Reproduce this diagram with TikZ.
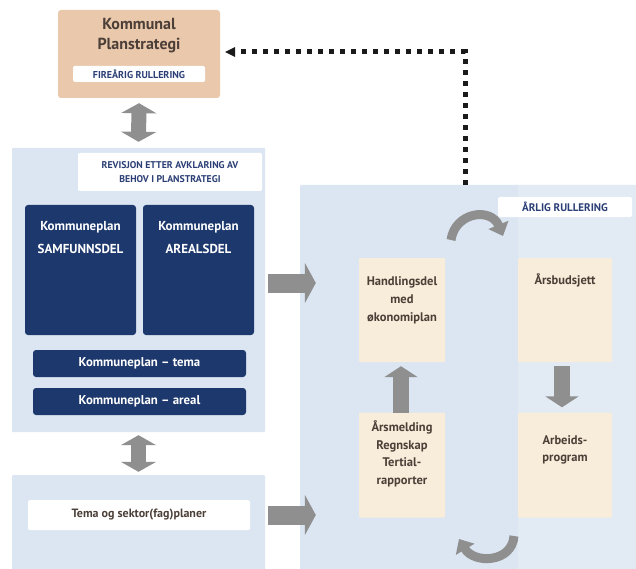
\documentclass[tikz,border=0pt]{standalone}
\usepackage{fontspec}
\setmainfont{PT Sans}
\usetikzlibrary{arrows.meta}
\definecolor{tanbox}{HTML}{E9C8AB}
\definecolor{titlegray}{HTML}{4B3F38}
\definecolor{navy}{HTML}{1D386C}
\definecolor{labelnavy}{HTML}{2B3F76}
\definecolor{paleblue}{HTML}{DBE6F2}
\definecolor{paleblueR}{HTML}{E2EAF4}
\definecolor{cream}{HTML}{F8EDDA}
\definecolor{arrowgray}{HTML}{8F8F8F}
\definecolor{dotblack}{HTML}{1A1A1A}
\begin{document}
\begin{tikzpicture}[x=1pt,y=-1pt,
  panel/.style={fill=paleblue, draw=none, inner sep=0pt, rounded corners=1pt},
  tagbox/.style={fill=white, draw=none, inner sep=0pt, rounded corners=1.5pt, font=\bfseries\fontsize{9.8}{14}\selectfont, text=labelnavy, align=center},
  navybox/.style={fill=navy, draw=none, inner sep=0pt, rounded corners=3pt},
  navytext/.style={text=white, font=\bfseries\fontsize{13}{23}\selectfont, align=center, inner sep=0pt},
  creambox/.style={fill=cream, draw=none, inner sep=0pt, rounded corners=1pt},
  creamtext/.style={text=titlegray, font=\bfseries\fontsize{12.5}{18}\selectfont, align=center, inner sep=0pt},
  fatdouble/.style={draw=arrowgray, line width=15pt, {Triangle[length=10pt,width=35pt]}-{Triangle[length=10pt,width=35pt]}},
  fatright/.style={draw=arrowgray, line width=19pt, -{Triangle[length=11pt,width=40pt]}},
  fatvert/.style={draw=arrowgray, line width=16pt, -{Triangle[length=11pt,width=33pt]}},
  curvy/.style={draw=arrowgray, line width=9pt, -{Triangle[length=12pt,width=21pt]}},
  dotline/.style={draw=dotblack, line width=5pt, dash pattern=on 5pt off 6pt}
]
\useasboundingbox (0,0) rectangle (636,569);
\fill[white] (0,0) rectangle (636,569);

% top box
\node[fill=tanbox, inner sep=0pt, rounded corners=3pt, minimum width=162pt, minimum height=88pt] (strat) at (139,54) {};
\node[text=titlegray, font=\bfseries\fontsize{16}{20}\selectfont, align=center, inner sep=0pt] (strattitle) at (139,36) {Kommunal\\Planstrategi};
\node[tagbox, minimum width=132pt, minimum height=16pt, font=\bfseries\fontsize{10}{11}\selectfont] (fire) at (139,74) {FIREÅRIG RULLERING};

% left panel
\node[panel, minimum width=253pt, minimum height=284pt] (left) at (138.5,290) {};
\node[tagbox, minimum width=184pt, minimum height=38pt] (rev) at (170,172) {REVISJON ETTER AVKLARING AV\\BEHOV I PLANSTRATEGI};
\node[navybox, minimum width=111pt, minimum height=130pt] (samf) at (80.5,270) {};
\node[navytext] (samft) at (80.5,238) {Kommuneplan\\SAMFUNNSDEL};
\node[navybox, minimum width=111pt, minimum height=130pt] (areal) at (198.5,270) {};
\node[navytext] (arealt) at (198.5,238) {Kommuneplan\\AREALSDEL};
\node[navybox, minimum width=213pt, minimum height=27pt, text=white, font=\bfseries\fontsize{12.8}{14}\selectfont] (tema) at (139.5,363.5) {Kommuneplan – tema};
\node[navybox, minimum width=213pt, minimum height=27pt, text=white, font=\bfseries\fontsize{12.8}{14}\selectfont] (arealp) at (139.5,401.5) {Kommuneplan – areal};

% bottom-left panel
\node[panel, minimum width=253pt, minimum height=96pt] (sektor) at (138.5,523) {};
\node[tagbox, minimum width=222pt, minimum height=30pt, text=titlegray, font=\bfseries\fontsize{12}{13}\selectfont] (sektort) at (139,515) {Tema og sektor(fag)planer};

% right panel
\node[panel, minimum width=336pt, minimum height=386pt] (right) at (468,378) {};
\fill[paleblueR] (518,185) rectangle (636,571);
\node[tagbox, minimum width=134pt, minimum height=20pt, font=\bfseries\fontsize{11}{12}\selectfont] (arlig) at (565,207) {ÅRLIG RULLERING};

\node[creambox, minimum width=86pt, minimum height=104pt] (hand) at (402,310) {};
\node[creamtext] (handt) at (402,300) {Handlingsdel\\med\\økonomiplan};
\node[creambox, minimum width=94pt, minimum height=104pt] (budsj) at (565,310) {};
\node[creamtext] (budsjt) at (565,280) {Årsbudsjett};
\node[creambox, minimum width=86pt, minimum height=105pt] (meld) at (402,465) {};
\node[creamtext, font=\bfseries\fontsize{12.5}{17.5}\selectfont] (meldt) at (402,454) {Årsmelding\\Regnskap\\Tertial-\\rapporter};
\node[creambox, minimum width=94pt, minimum height=105pt] (arb) at (565,465) {};
\node[creamtext, font=\bfseries\fontsize{12.5}{17}\selectfont] (arbt) at (565,450) {Arbeids-\\program};

% connectors
\draw[fatdouble] ([yshift=-5pt]strat.south) -- ([yshift=6pt]left.north);
\draw[fatdouble] ([yshift=-3pt]left.south) -- ([yshift=3pt]sektor.north);
\draw[fatright, shorten <=3pt, shorten >=-16pt] (left.east |- 0,283) -- (right.west |- 0,283);
\draw[fatright, shorten <=3pt, shorten >=-16pt] (sektor.east |- 0,515) -- (right.west |- 0,515);
\draw[fatvert, shorten <=-1pt, shorten >=4pt] (meld.north -| 401,0) -- (hand.south -| 401,0);
\draw[fatvert, shorten <=4pt, shorten >=5pt] (budsj.south -| 562,0) -- (arb.north -| 562,0);

\coordinate (corner) at (465,52);
\draw[dotline] (right.north -| corner) -- (corner) -- ([xshift=12pt]strat.east |- corner);
\draw[draw=none, fill=dotblack] ([xshift=5pt]strat.east |- corner) -- ++(10,-5) -- ++(0,10) -- cycle;

\coordinate (topA) at (451,240);
\coordinate (topB) at (503,236);
\draw[curvy] (topA) .. controls (455,212) and (491,207) .. (topB);
\coordinate (botA) at (514,536);
\coordinate (botB) at (459,539);
\draw[curvy] (botA) .. controls (512,563) and (474,564) .. (botB);
\end{tikzpicture}
\end{document}
